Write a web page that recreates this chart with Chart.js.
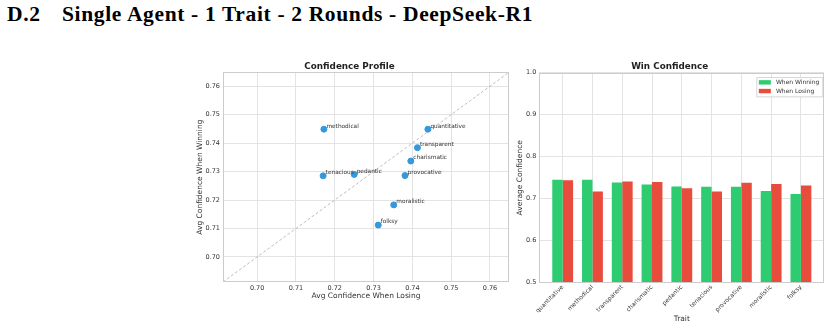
<!DOCTYPE html>
<html>
<head>
<meta charset="utf-8">
<script src="https://cdn.jsdelivr.net/npm/chart.js@4.4.1/dist/chart.umd.min.js"></script>
<style>
  body { margin: 0; width: 831px; height: 329px; background: #fff; position: relative; overflow: hidden; }
  #heading { position: absolute; left: 7px; top: 2px; font-family: "Liberation Serif", serif; font-weight: bold; font-size: 21.5px; letter-spacing: 0.65px; color: #000; white-space: nowrap; }
  #heading .num { display: inline-block; width: 55px; }
  #profileChart { position: absolute; left: 190px; top: 55px; }
  #winChart { position: absolute; left: 515px; top: 55px; }
</style>
</head>
<body>
<div id="heading"><span class="num">D.2</span>Single Agent - 1 Trait - 2 Rounds - DeepSeek-R1</div>
<canvas id="profileChart" width="325" height="250"></canvas>
<canvas id="winChart" width="316" height="274"></canvas>
<script>
// Data
const traits = ['quantitative', 'methodical', 'transparent', 'charismatic', 'pedantic', 'tenacious', 'provocative', 'moralistic', 'folksy'];
const winConf = [0.7449, 0.7449, 0.7384, 0.7337, 0.7290, 0.7285, 0.7286, 0.7183, 0.7112];
const loseConf = [0.7440, 0.7172, 0.7413, 0.7396, 0.7250, 0.7170, 0.7381, 0.7352, 0.7312];
const profileTicks = [0.70, 0.71, 0.72, 0.73, 0.74, 0.75, 0.76];
const winTicks = [0.5, 0.6, 0.7, 0.8, 0.9, 1.0];

const FONT = 'DejaVu Sans';
const GRID = '#e3e3e3';
const FRAME = '#cccccc';
const TEXT = '#333333';

// axis limits like matplotlib: min/max of both series +- 0.02
const allVals = winConf.concat(loseConf);
const lim = [Math.min(...allVals) - 0.02, Math.max(...allVals) + 0.02];

// draws the full box around the plot area (all four spines)
const frame = {
    id: 'frame',
    afterDatasetsDraw(chart) {
        const a = chart.chartArea;
        const ctx = chart.ctx;
        ctx.save();
        ctx.strokeStyle = FRAME;
        ctx.lineWidth = 1;
        ctx.strokeRect(Math.round(a.left) + 0.5, Math.round(a.top) + 0.5,
            Math.round(a.right - a.left) - 1, Math.round(a.bottom - a.top) - 1);
        ctx.restore();
    }
};

// trait names next to every scatter point
const pointLabels = {
    id: 'pointLabels',
    afterDatasetsDraw(chart) {
        const meta = chart.getDatasetMeta(0);
        const ctx = chart.ctx;
        ctx.save();
        ctx.font = '5.8px "' + FONT + '"';
        ctx.fillStyle = TEXT;
        ctx.textAlign = 'left';
        ctx.textBaseline = 'alphabetic';
        meta.data.forEach((pt, i) => {
            ctx.fillText(traits[i], pt.x + 2.5, pt.y - 1.6);
        });
        ctx.restore();
    }
};

// legend box inside the upper right of the bar plot
const insideLegend = {
    id: 'insideLegend',
    afterDraw(chart) {
        const a = chart.chartArea;
        const ctx = chart.ctx;
        const sets = chart.data.datasets;
        ctx.save();
        ctx.font = '6px "' + FONT + '"';
        let tw = 0;
        sets.forEach(d => { tw = Math.max(tw, ctx.measureText(d.label).width); });
        const w = 19.5 + tw + 3;
        const h = 19.3;
        const x0 = a.right - 2 - w;
        const y0 = a.top + 4.3;
        ctx.fillStyle = 'rgba(255,255,255,0.9)';
        ctx.strokeStyle = '#cccccc';
        ctx.lineWidth = 0.8;
        ctx.beginPath();
        ctx.rect(x0 + 0.5, y0 + 0.5, w, h);
        ctx.fill();
        ctx.stroke();
        ctx.textBaseline = 'middle';
        ctx.textAlign = 'left';
        sets.forEach((d, i) => {
            const cy = y0 + 5.3 + i * 8.7;
            ctx.fillStyle = d.backgroundColor;
            ctx.fillRect(x0 + 2.5, cy - 2.2, 12, 4.4);
            ctx.fillStyle = TEXT;
            ctx.fillText(d.label, x0 + 19.6, cy + 0.3);
        });
        ctx.restore();
    }
};

Chart.defaults.font.family = FONT;
Chart.defaults.color = TEXT;

// Confidence Profile (scatter)
new Chart(document.getElementById('profileChart'), {
    type: 'scatter',
    data: {
        datasets: [{
            data: traits.map((t, i) => ({ x: loseConf[i], y: winConf[i] })),
            backgroundColor: '#3498db',
            borderColor: '#3498db',
            pointRadius: 3,
            order: 0
        }, {
            type: 'line',
            data: [{ x: lim[0], y: lim[0] }, { x: lim[1], y: lim[1] }],
            borderColor: 'rgba(140,140,140,0.7)',
            borderWidth: 0.8,
            borderDash: [3, 2],
            pointRadius: 0,
            order: 1
        }]
    },
    options: {
        responsive: false,
        animation: false,
        layout: { padding: { right: 6 } },
        plugins: {
            legend: { display: false },
            tooltip: { enabled: false },
            title: {
                display: true,
                text: 'Confidence Profile',
                color: '#222',
                font: { size: 8.8, weight: 'bold' },
                padding: { top: 6, bottom: 0.7 }
            }
        },
        scales: {
            x: {
                type: 'linear',
                min: lim[0],
                max: lim[1],
                afterBuildTicks: s => { s.ticks = profileTicks.map(v => ({ value: v })); },
                afterFit: s => { s.height = 23; },
                ticks: { font: { size: 6.5 }, padding: 2, callback: v => v.toFixed(2) },
                grid: { color: GRID, drawTicks: false },
                border: { display: false },
                title: { display: true, text: 'Avg Confidence When Losing', font: { size: 7.5 }, padding: { top: 0, bottom: 4.5 } }
            },
            y: {
                type: 'linear',
                min: lim[0],
                max: lim[1],
                afterBuildTicks: s => { s.ticks = profileTicks.map(v => ({ value: v })); },
                afterFit: s => { s.width = 33; },
                ticks: { font: { size: 6.5 }, padding: 3, callback: v => v.toFixed(2) },
                grid: { color: GRID, drawTicks: false },
                border: { display: false },
                title: { display: true, text: 'Avg Confidence When Winning', font: { size: 7.5 }, padding: { top: 5.5, bottom: 0 } }
            }
        }
    },
    plugins: [frame, pointLabels]
});

// Win Confidence (grouped bars)
new Chart(document.getElementById('winChart'), {
    type: 'bar',
    data: {
        datasets: [{
            label: 'When Winning',
            data: traits.map((t, i) => ({ x: i, y: winConf[i] })),
            backgroundColor: '#2ecc71'
        }, {
            label: 'When Losing',
            data: traits.map((t, i) => ({ x: i, y: loseConf[i] })),
            backgroundColor: '#e74c3c'
        }]
    },
    options: {
        responsive: false,
        animation: false,
        layout: { padding: { right: 6.7 } },
        datasets: { bar: { categoryPercentage: 0.7, barPercentage: 1.0, borderWidth: 0 } },
        plugins: {
            legend: { display: false },
            tooltip: { enabled: false },
            title: {
                display: true,
                text: 'Win Confidence',
                color: '#222',
                font: { size: 8.8, weight: 'bold' },
                padding: { top: 6, bottom: 1.2 }
            }
        },
        scales: {
            x: {
                type: 'linear',
                offset: false,
                min: -0.785,
                max: traits.length - 1 + 0.785,
                afterBuildTicks: s => { s.ticks = traits.map((t, i) => ({ value: i })); },
                afterFit: s => { s.height = 46.3; },
                ticks: {
                    font: { size: 6 },
                    padding: 1,
                    autoSkip: false,
                    minRotation: 45,
                    maxRotation: 45,
                    callback: v => traits[v]
                },
                grid: { color: GRID, drawTicks: false, offset: false },
                border: { display: false },
                title: { display: true, text: 'Trait', font: { size: 7.5 }, padding: { top: 0, bottom: 5.5 } }
            },
            y: {
                min: 0.5,
                max: 1.0,
                afterBuildTicks: s => { s.ticks = winTicks.map(v => ({ value: v })); },
                afterFit: s => { s.width = 24.3; },
                ticks: { font: { size: 6.5 }, padding: 3, callback: v => v.toFixed(1) },
                grid: { color: GRID, drawTicks: false },
                border: { display: false },
                title: { display: true, text: 'Average Confidence', font: { size: 7.5 }, padding: { top: 0.5, bottom: 0 } }
            }
        }
    },
    plugins: [frame, insideLegend]
});
</script>
</body>
</html>
